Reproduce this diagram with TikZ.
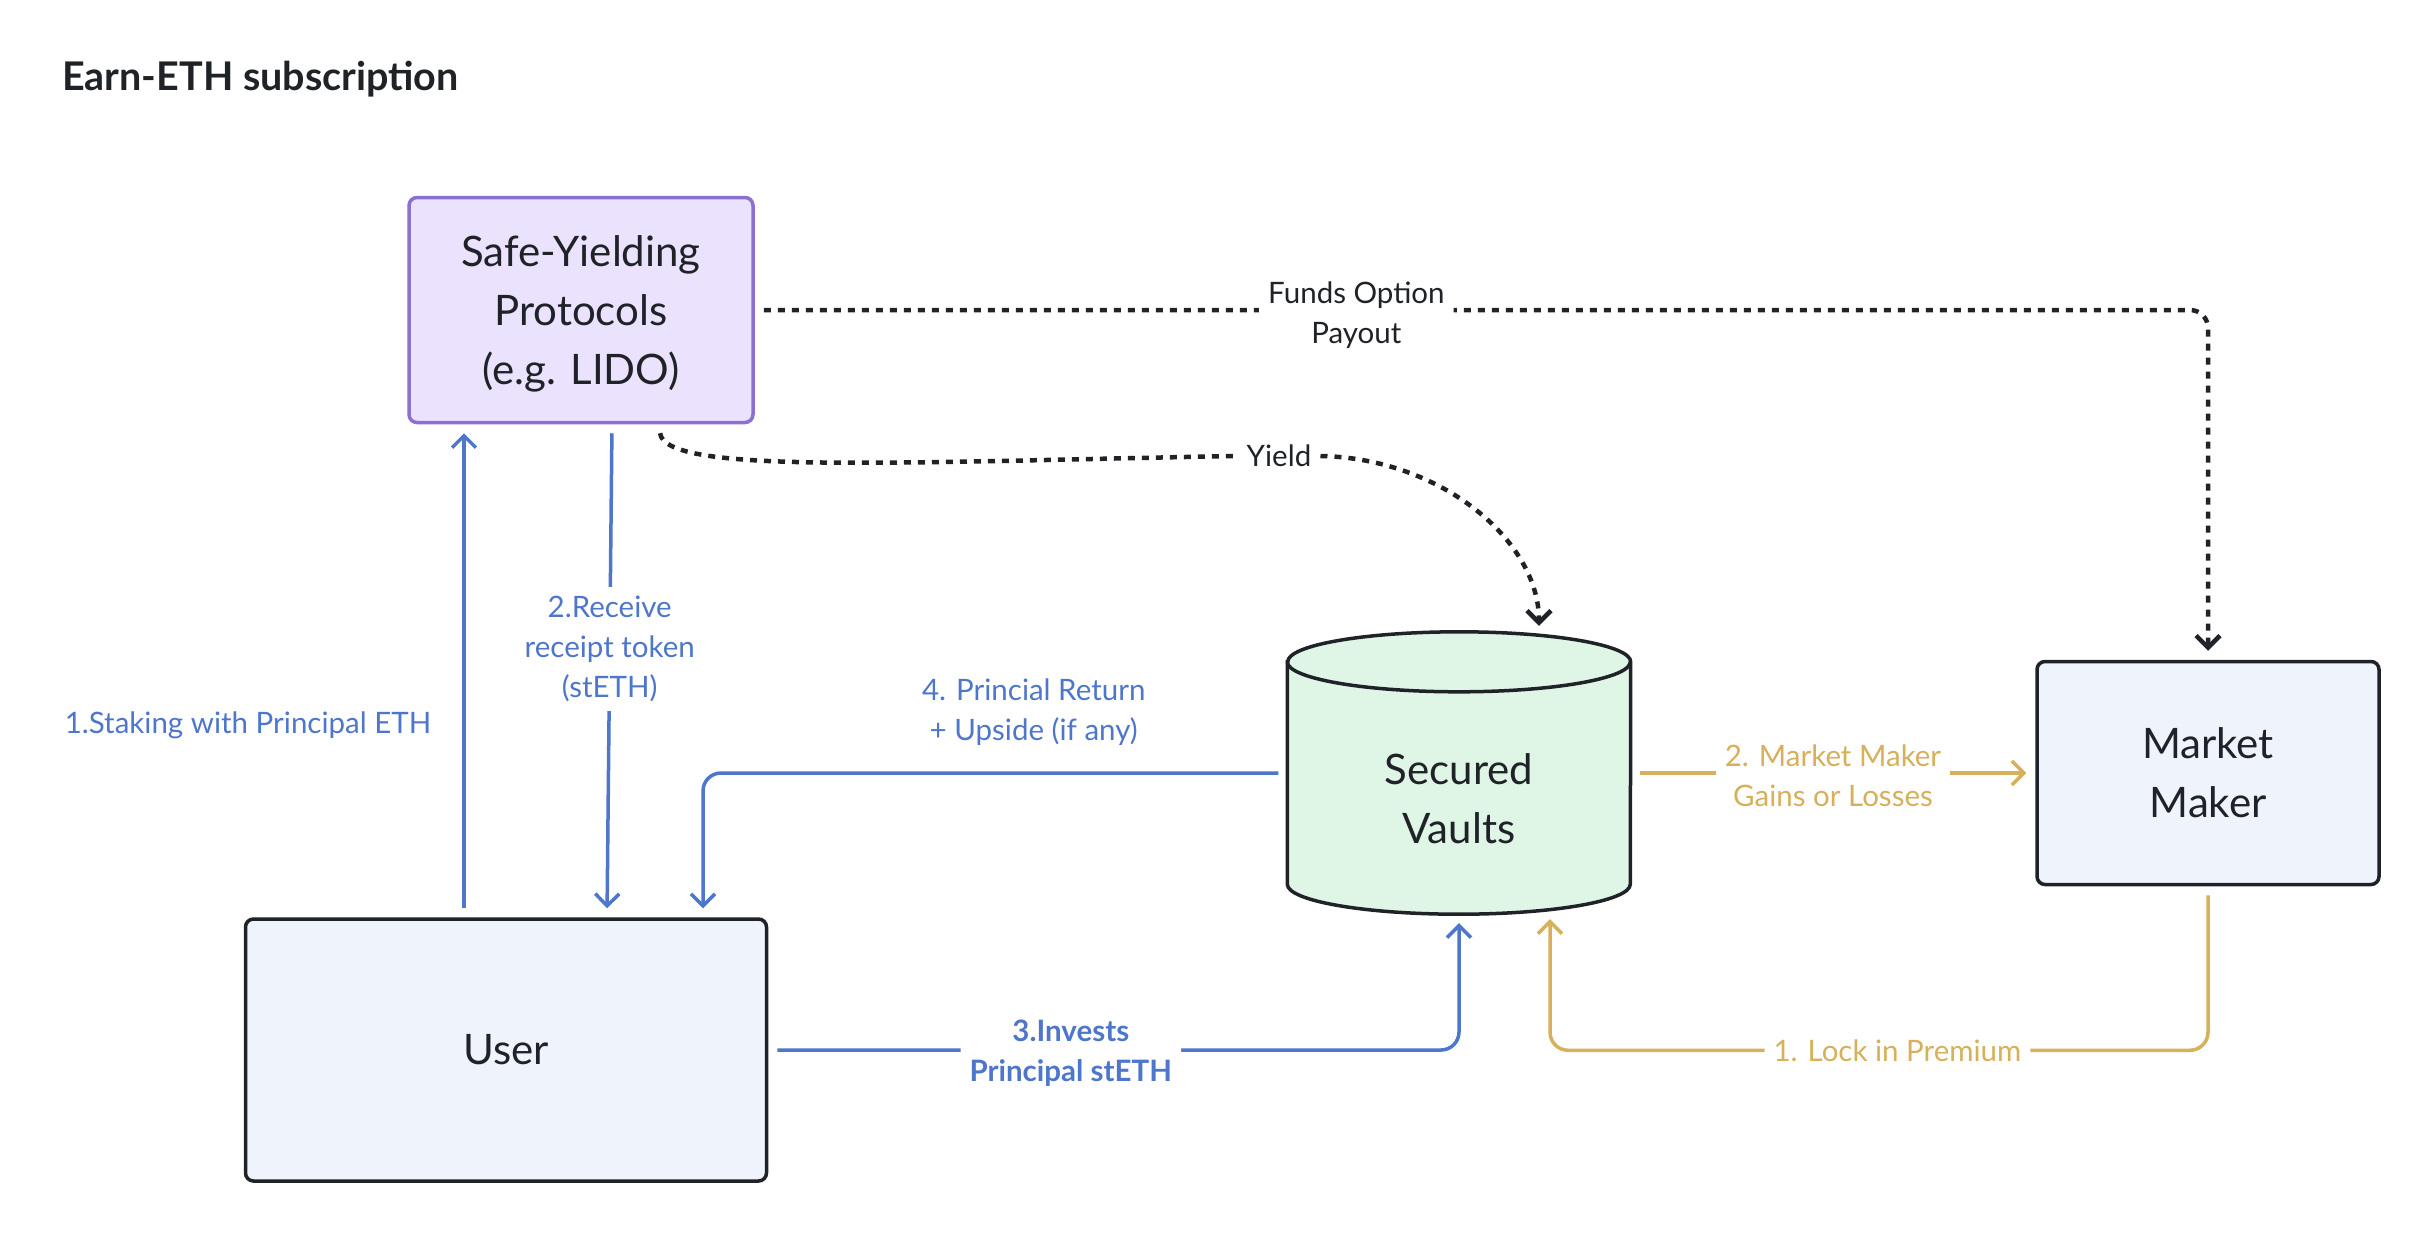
\documentclass[tikz,border=0pt]{standalone}
\usepackage{fontspec}
\setmainfont{Lato}
\usetikzlibrary{arrows.meta,backgrounds}
\definecolor{ink}{HTML}{1F2328}
\definecolor{flowblue}{HTML}{4E76CB}
\definecolor{flowgold}{HTML}{D6B05A}
\definecolor{lidoedge}{HTML}{8C6FD0}
\definecolor{lidofill}{HTML}{EBE2FD}
\definecolor{userfill}{HTML}{EFF3FC}
\definecolor{vaultfill}{HTML}{DFF5E6}
\begin{document}
\begin{tikzpicture}[x=1pt,y=-1pt,
		box/.style={draw=ink,line width=3.5pt,rounded corners=8pt,fill=userfill,text=ink,align=center,font=\fontsize{42}{59}\selectfont},
		lbl/.style={font=\fontsize{29.5}{40}\selectfont,align=center,inner sep=9pt},
		boldlbl/.style={lbl,font=\fontsize{29.5}{40}\selectfont\bfseries},
		flow/.style={line width=3.5pt,shorten <=9pt,shorten >=9pt,-{Straight Barb[length=12pt,width=24pt]}},
		blueflow/.style={flow,flowblue},
		goldflow/.style={flow,flowgold},
		dotflow/.style={flow,ink,line width=4.5pt,dash pattern=on 7pt off 7pt},
		lid/.style={x radius=171.5pt,y radius=30pt},
		vaultline/.style={draw=ink,line width=3.5pt}]
		\useasboundingbox (0,0) rectangle (2430,1232);
		\node[anchor=west,inner sep=0pt,text=ink,font=\fontsize{39.5}{44}\selectfont\bfseries] (title) at (62,79) {Earn-ETH subscription};
		\node[box,draw=lidoedge,fill=lidofill,text depth=-26pt,minimum width=344pt,minimum height=225pt] (safe) at (581,310) {Safe-Yielding\\Protocols\\(e.g. LIDO)};
		\node[box,minimum width=521pt,minimum height=262pt] (user) at (506,1050) {User};
		\node[box,minimum width=342pt,minimum height=223pt] (mm) at (2208,773) {Market\\Maker};
		\node[inner sep=0pt,minimum width=343pt,minimum height=231pt,text=ink,align=center,font=\fontsize{42}{59}\selectfont] (vault) at (1459,798.5) {Secured\\Vaults};
		\begin{scope}[on background layer]
			\path[vaultline,fill=vaultfill] ([yshift=21]vault.north west) -- ([yshift=30]vault.south west) arc[start angle=180,end angle=360,lid] -- ([yshift=21]vault.north east) arc[start angle=0,end angle=180,lid] -- cycle;
			\draw[vaultline] ([yshift=21]vault.north west) arc[start angle=180,end angle=360,lid];
		\end{scope}
		\node[lbl,ink] (yield) at (1279,456) {Yield};
		\draw[blueflow] ([xshift=-42]user.north) -- node[lbl,pos=0.39,left=22pt]{1.Staking with Principal ETH} ([xshift=-42]user.north |- safe.south);
		\draw[blueflow] ([xshift=31]safe.south) -- node[lbl,pos=0.456,fill=white]{2.Receive\\receipt token\\(stETH)} ([xshift=101]user.north);
		\draw[blueflow,rounded corners=18pt] ([yshift=25.5]vault.west) -| node[lbl,pos=0.217,above=17pt]{4. Princial Return\\+ Upside (if any)} ([xshift=197]user.north);
		\draw[blueflow,rounded corners=18pt] (user.east) -| node[boldlbl,pos=0.219,fill=white,yshift=-3pt]{3.Invests\\Principal stETH} (vault.south);
		\draw[goldflow,rounded corners=18pt] (mm.south) -- ++(0,164) -| node[lbl,pos=0.236,fill=white]{1. Lock in Premium} ([xshift=91,yshift=4]vault.south);
		\draw[goldflow] ([yshift=25.5]vault.east) -- node[lbl,fill=white,yshift=-3pt]{2. Market Maker\\Gains or Losses} (mm.west);
		\draw[dotflow,rounded corners=18pt] (safe.east) -| node[lbl,pos=0.207,fill=white,yshift=-5pt]{Funds Option\\Payout} (mm.north);
		\draw[dotflow,-,shorten >=0pt] ([xshift=78]safe.south) .. controls (665,475) and (900,462) .. (yield.west);
		\draw[dotflow,shorten <=0pt] (yield.east) .. controls (1440,458) and (1539,540) .. ([xshift=80,yshift=48]vault.north);
	\end{tikzpicture}
\end{document}
